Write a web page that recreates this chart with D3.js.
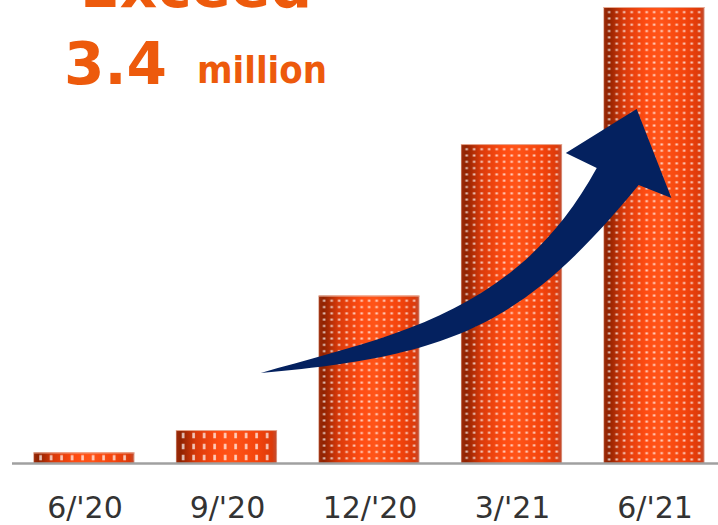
<!DOCTYPE html>
<html>
<head>
<meta charset="utf-8">
<script src="https://cdn.jsdelivr.net/npm/d3@7"></script>
<style>
  html, body { margin: 0; padding: 0; background: #fff; }
  svg { display: block; }
</style>
</head>
<body>
<div id="chart"></div>
<script>
// Quarter-end totals, in millions
const categories = ["6/'20", "9/'20", "12/'20", "3/'21", "6/'21"];
const values = [0.08, 0.25, 1.27, 2.42, 3.46];
const headlineTop = "Exceed";
const headlineNumber = "3.4";
const headlineUnit = "million";

// Growth arrow outline in (category index, value) units
const arrowUpper = [[1.241, 0.683], [2.178, 0.971], [3.038, 1.131], [3.598, 2.238]];
const arrowHead = [[3.381, 2.352], [3.878, 2.686], [4.122, 2.011], [3.892, 2.109]];
const arrowLower = [[3.892, 2.109], [3.087, 1.047], [2.591, 0.812], [1.241, 0.683]];

const W = 718, H = 525;
const baseY = 463;
const orange = "#ED5A0C";

const svg = d3.select("#chart").append("svg")
  .attr("width", W).attr("height", H);
const defs = svg.append("defs");

const x = d3.scaleBand().domain(categories)
  .range([12, 726]).paddingInner(0.29).paddingOuter(0.15);
const y = d3.scaleLinear().domain([0, 3.46]).range([baseY, 7]);

// continuous index position (bar centres at integer indices)
const xi = i => x(categories[0]) + x.bandwidth() / 2 + i * x.step();

// cylinder shading across each bar
const grad = defs.append("linearGradient").attr("id", "cyl")
  .attr("x1", 0).attr("x2", 1).attr("y1", 0).attr("y2", 0);
[
  [0, "#d9a08c"], [0.012, "#9a2a08"], [0.05, "#902200"], [0.2, "#da3a0a"],
  [0.42, "#ff4c12"], [0.55, "#ff5418"], [0.8, "#f4440c"], [0.95, "#dc3a0a"],
  [0.985, "#c84a2a"], [1, "#e0b0a0"]
].forEach(([o, c]) => grad.append("stop").attr("offset", o).attr("stop-color", c));

// dotted texture; short bars get a stretched tile
categories.forEach((c, i) => {
  const h = baseY - y(values[i]);
  let tw = 7.5, th = 6.3, dw = 2.6, dh = 2.0;
  if (h < 60) {
    const rows = Math.max(1, Math.round(h / 10.5));
    th = h / rows; tw = 10.5; dw = 2.6; dh = th * 0.5;
  }
  const p = defs.append("pattern").attr("id", "dots" + i)
    .attr("patternUnits", "userSpaceOnUse")
    .attr("x", x(c) + 2).attr("y", y(values[i]) + (h < 60 ? 0 : 2))
    .attr("width", tw).attr("height", th);
  p.append("rect").attr("x", (tw - dw) / 2).attr("y", (th - dh) / 2)
    .attr("width", dw).attr("height", dh)
    .attr("fill", "#fff").attr("fill-opacity", 0.72);
});

const bars = svg.append("g");
bars.selectAll("rect.base").data(values).join("rect").attr("class", "base")
  .attr("x", (d, i) => x(categories[i]))
  .attr("y", d => y(d))
  .attr("width", x.bandwidth())
  .attr("height", d => baseY - y(d))
  .attr("fill", "url(#cyl)");
bars.selectAll("rect.tex").data(values).join("rect").attr("class", "tex")
  .attr("x", (d, i) => x(categories[i]) + 1)
  .attr("y", d => y(d) + 1)
  .attr("width", x.bandwidth() - 2)
  .attr("height", d => baseY - y(d) - 1)
  .attr("fill", (d, i) => `url(#dots${i})`);
// light rim along the top of each cylinder
bars.selectAll("line.rim").data(values).join("line").attr("class", "rim")
  .attr("x1", (d, i) => x(categories[i]))
  .attr("x2", (d, i) => x(categories[i]) + x.bandwidth())
  .attr("y1", d => y(d) + 0.5).attr("y2", d => y(d) + 0.5)
  .attr("stroke", "#e8a890").attr("stroke-width", 1);

// baseline
svg.append("line")
  .attr("x1", 12).attr("x2", W).attr("y1", baseY + 0.5).attr("y2", baseY + 0.5)
  .attr("stroke", "#a0a0a0").attr("stroke-width", 2.5);

// category labels
svg.append("g").selectAll("text").data(categories).join("text")
  .attr("x", d => x(d) + x.bandwidth() / 2 + 1)
  .attr("y", 518)
  .attr("text-anchor", "middle")
  .attr("font-family", "DejaVu Sans, Verdana, sans-serif")
  .attr("font-size", 30)
  .attr("fill", "#333333")
  .text(d => d);

// growth arrow
const P = ([u, v]) => [xi(u), y(v)];
const path = d3.path();
const u = arrowUpper.map(P), hd = arrowHead.map(P), lo = arrowLower.map(P);
path.moveTo(...u[0]);
path.bezierCurveTo(...u[1], ...u[2], ...u[3]);
hd.forEach(pt => path.lineTo(...pt));
path.bezierCurveTo(...lo[1], ...lo[2], ...lo[3]);
path.closePath();
svg.append("path").attr("d", path.toString()).attr("fill", "#04215F");

// headline (first line runs off the top edge)
const hl = svg.append("g")
  .attr("font-family", "DejaVu Sans, Verdana, sans-serif")
  .attr("font-weight", "bold").attr("fill", orange);
hl.append("text").attr("x", 80).attr("y", 7).attr("font-size", 57)
  .attr("textLength", 232).attr("lengthAdjust", "spacingAndGlyphs")
  .text(headlineTop);
hl.append("text").attr("x", 64).attr("y", 84).attr("font-size", 59)
  .attr("textLength", 103).attr("lengthAdjust", "spacingAndGlyphs")
  .text(headlineNumber);
hl.append("text").attr("x", 197).attr("y", 83).attr("font-size", 38)
  .attr("textLength", 130).attr("lengthAdjust", "spacingAndGlyphs")
  .text(headlineUnit);
</script>
</body>
</html>
